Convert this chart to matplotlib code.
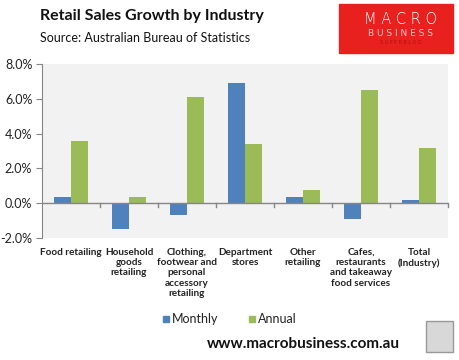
import matplotlib
matplotlib.use("Agg")
import matplotlib.pyplot as plt
import numpy as np
from matplotlib.patches import Rectangle

categories = ["Food retailing", "Household\ngoods\nretailing",
              "Clothing,\nfootwear and\npersonal\naccessory\nretailing",
              "Department\nstores", "Other\nretailing",
              "Cafes,\nrestaurants\nand takeaway\nfood services",
              "Total\n(Industry)"]
monthly = [0.35, -1.5, -0.7, 6.9, 0.35, -0.9, 0.2]
annual = [3.55, 0.35, 6.1, 3.4, 0.75, 6.5, 3.15]
yticks = [-2, 0, 2, 4, 6, 8]

plt.rcParams["font.family"] = ["Lato", "DejaVu Sans"]

fig = plt.figure(figsize=(4.6, 3.6), dpi=100)
ax = fig.add_axes([42 / 460, 1 - 238 / 360, 406 / 460, 174 / 360])
ax.set_facecolor("#F2F2F2")

x = np.arange(len(categories))
w = 0.29
ax.bar(x - w / 2, monthly, w, color="#4F81BD", label="Monthly", zorder=2)
ax.bar(x + w / 2, annual, w, color="#9BBB59", label="Annual", zorder=2)

ax.set_xlim(-0.5, len(categories) - 0.5)
ax.set_ylim(-2, 8)
ax.set_yticks(yticks)
ax.set_yticklabels([f"{v:.1f}%" for v in yticks], fontsize=9, color="#222222")
ax.tick_params(axis="y", length=4, color="#868686", pad=3)
ax.set_xticks([])

for s in ["top", "right", "bottom"]:
    ax.spines[s].set_visible(False)
ax.spines["left"].set_color("#868686")
ax.axhline(0, color="#868686", lw=1, zorder=3)
for b in np.arange(0.5, len(categories), 1.0):
    ax.plot([b, b], [0, -0.22], color="#868686", lw=1, zorder=3, clip_on=False)

for i, lab in enumerate(categories):
    ax.text(i, -2.55, lab, ha="center", va="top", fontsize=7.2, fontweight="bold",
            color="#222222", linespacing=1.2)

# legend
fig.patches.append(Rectangle((163 / 460, 1 - 322 / 360), 6 / 460, 6 / 360,
                             transform=fig.transFigure, color="#4F81BD"))
fig.text(172 / 460, 1 - 319 / 360, "Monthly", fontsize=9, va="center", color="#222222")
fig.patches.append(Rectangle((249 / 460, 1 - 322 / 360), 6 / 460, 6 / 360,
                             transform=fig.transFigure, color="#9BBB59"))
fig.text(258 / 460, 1 - 319 / 360, "Annual", fontsize=9, va="center", color="#222222")

# titles
fig.text(40 / 460, 1 - 16 / 360, "Retail Sales Growth by Industry", fontsize=11.5,
         fontweight="bold", va="center", color="#111111")
fig.text(40 / 460, 1 - 38 / 360, "Source: Australian Bureau of Statistics", fontsize=9,
         va="center", color="#111111")

# logo
fig.patches.append(Rectangle((339 / 460, 1 - 53 / 360), 114 / 460, 49 / 360,
                             transform=fig.transFigure, color="#E8201E"))
fig.text(401 / 460, 1 - 20 / 360, "M A C R O", fontsize=10.5, color="white",
         ha="center", va="center", family="DejaVu Sans", fontweight="light")
fig.text(401 / 460, 1 - 33 / 360, "B U S I N E S S", fontsize=6.5, color="#F8C8C8",
         ha="center", va="center", family="DejaVu Sans")
fig.text(401 / 460, 1 - 43 / 360, "S U P E R B L O G", fontsize=3.5, color="#B01010",
         ha="center", va="center", family="DejaVu Sans")

# footer
fig.text(303 / 460, 1 - 344 / 360, "www.macrobusiness.com.au", fontsize=11,
         fontweight="bold", ha="center", va="center", color="#111111")
fig.patches.append(Rectangle((426 / 460, 1 - 352 / 360), 27 / 460, 31 / 360,
                             transform=fig.transFigure, facecolor="#D8D8D8",
                             edgecolor="#999999", lw=1))

fig.savefig("out.png", dpi=100)
